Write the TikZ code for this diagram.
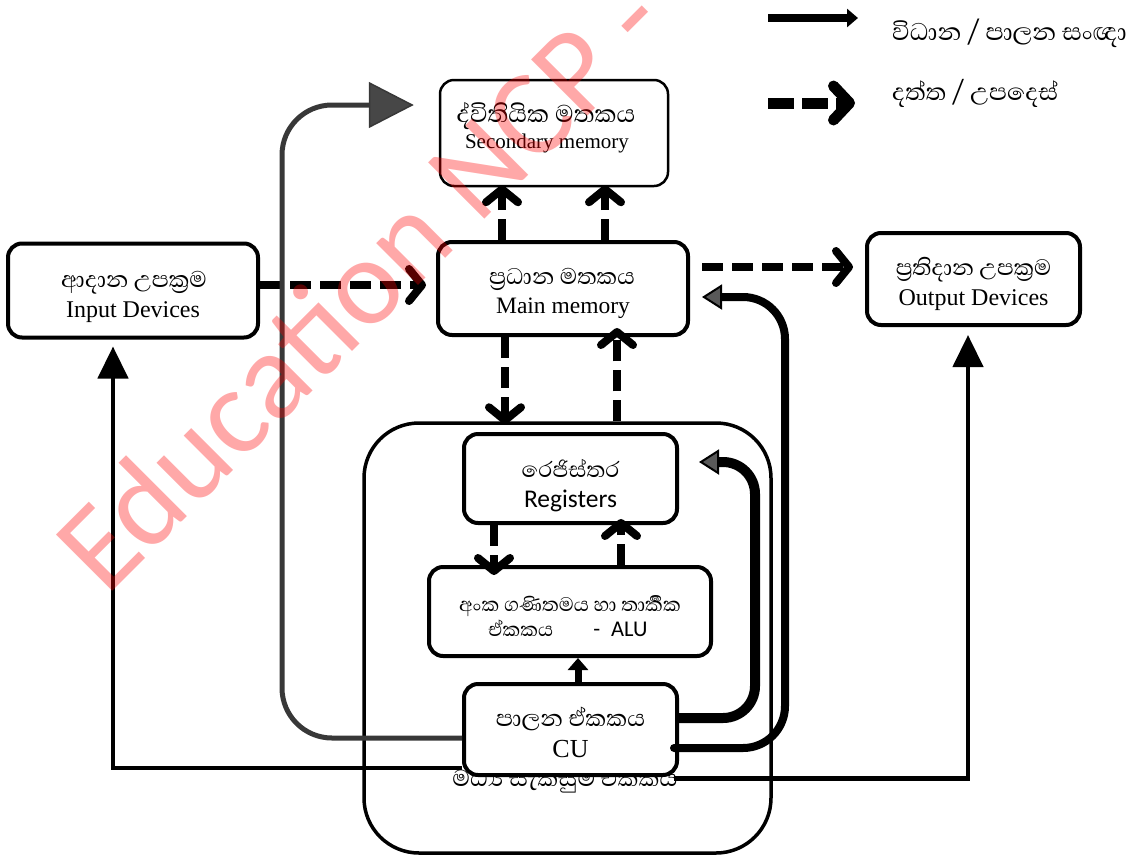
\documentclass[tikz,border=0pt]{standalone}
\usepackage{fontspec}
\setmainfont{Liberation Serif}
\newfontfamily\sinhf[Script=Sinhala]{Abhaya Libre}
\newfontfamily\calib{Carlito}
\usetikzlibrary{arrows.meta}
\begin{document}
\begin{tikzpicture}[x=1pt,y=-1pt,
  box/.style={draw, line width=4pt, rounded corners=14pt, fill=white, inner sep=0pt},
  darr/.style={line width=8pt, dash pattern=on 21pt off 9pt, -{Straight Barb[length=13pt,width=32pt,round]}},
  sarr/.style={line width=4.5pt, -{Triangle[length=32pt,width=30pt]}},
  garr/.style={draw=black!78, line width=5pt, -{Triangle[length=45pt,width=46pt,fill=black!72,line width=1.5pt]}},
  thk/.style={line width=#1, -{Triangle[length=20pt,width=25pt,fill=black!65,line width=2pt]}},
  si/.style={font=\sinhf\fontsize{#1}{#1}\selectfont, anchor=base, inner sep=0pt},
  en/.style={font=\fontsize{#1}{#1}\selectfont, anchor=base, inner sep=0pt},
  ca/.style={font=\calib\fontsize{#1}{#1}\selectfont, anchor=base, inner sep=0pt},
]
\useasboundingbox (0,0) rectangle (1127,855);

% CPU outer box and its (hidden) label
\node[draw, line width=3.5pt, rounded corners=55pt, minimum width=407pt, minimum height=430pt, inner sep=0pt] (cpu) at (567.5,638) {};
\node[si=29.5] (cpulbl) at (565,786) {මධ්^^^^200dය සැකසුම් ඒකකය};

% boxes
\node[box, line width=2.5pt, minimum width=228pt, minimum height=106pt] (sec) at (554,133) {};
\node[si=31] (secS) at ([xshift=-8pt,yshift=11pt]sec.center) {ද්විතියික මතකය};
\node[en=21] (secE) at ([xshift=-7pt,yshift=-15pt]sec.center) {Secondary memory};

\node[box, minimum width=250pt, minimum height=94pt] (inp) at (133,290.5) {};
\node[si=29] (inpS) at ([xshift=1pt,yshift=3.5pt]inp.center) {ආදාන උපක්^^^^200dරම};
\node[en=24] (inpE) at ([yshift=-26.5pt]inp.center) {Input Devices};

\node[box, minimum width=250pt, minimum height=93pt] (mm) at (563,288.5) {};
\node[si=29] (mmS) at ([xshift=-1pt,yshift=4.5pt]mm.center) {ප්^^^^200dරධාන මතකය};
\node[en=23.5] (mmE) at ([yshift=-24.5pt]mm.center) {Main memory};

\node[box, minimum width=213pt, minimum height=92pt] (out) at (973.5,279) {};
\node[si=28.5] (outS) at ([yshift=4pt]out.center) {ප්^^^^200dරතිදාන උපක්^^^^200dරම};
\node[en=24] (outE) at ([yshift=-26pt]out.center) {Output Devices};

\node[box, minimum width=213pt, minimum height=89pt] (reg) at (570.5,478.5) {};
\node[si=28] (regS) at ([yshift=1.5pt]reg.center) {රෙජිස්තර};
\node[ca=25.5] (regE) at ([yshift=-28.5pt]reg.center) {Registers};

\node[box, minimum width=282pt, minimum height=89pt] (alu) at (570,611.5) {};
\node[si=25] (aluS) at ([yshift=0.5pt]alu.center) {අංක ගණිතමය හා තාර්^^^^200dකික};
\node[si=25] (aluE) at ([xshift=-2pt,yshift=-24.5pt]alu.center)
  {ඒකකය\hspace{40pt}{\calib\fontsize{22.5}{22.5}\selectfont -\hspace{11pt}ALU}};

\node[box, minimum width=213pt, minimum height=91pt] (cu) at (570.5,729.5) {};
\node[si=29.5] (cuS) at ([yshift=3.5pt]cu.center) {පාලන ඒකකය};
\node[en=26] (cuE) at ([yshift=-27.5pt]cu.center) {CU};

% legend
\coordinate (l1a) at (768,18);
\coordinate (l1b) at (858,18);
\draw[line width=8pt, -{Triangle[length=11pt,width=18pt]}] (l1a) -- (l1b);
\node[si=31, anchor=base west] (l1t) at (892,40) {විධාන / පාලන සංඥා};
\coordinate (l2a) at (768,103);
\coordinate (l2b) at (855,103);
\draw[line width=11pt, dash pattern=on 26pt off 8pt, -{Straight Barb[length=16pt,width=34pt,round]}] (l2a) -- (l2b);
\node[si=30.5, anchor=base west] (l2t) at (892,100) {දත්ත / උපදෙස්};

% data arrows
\coordinate (ia) at ([yshift=5.5pt]inp.east);
\coordinate (ib) at (ia -| mm.west);
\draw[darr, shorten >=10pt] (ia) -- (ib);

\coordinate (ms1a) at ([xshift=-61pt]mm.north);
\coordinate (ms1b) at (ms1a |- sec.south);
\draw[darr, shorten >=-2pt] (ms1a) -- (ms1b);
\coordinate (ms2a) at ([xshift=42pt]mm.north);
\coordinate (ms2b) at (ms2a |- sec.south);
\draw[darr, shorten >=-2pt] (ms2a) -- (ms2b);

\coordinate (mo1) at ([yshift=21.5pt,xshift=12pt]mm.east);
\coordinate (mo2t) at ([xshift=-12pt]out.west);
\coordinate (mo2) at (mo2t |- mo1);
\draw[darr] (mo1) -- (mo2);

\coordinate (mc1) at ([xshift=-58pt]mm.south);
\coordinate (mc2) at (mc1 |- cpu.north);
\draw[darr, shorten >=-3pt] (mc1) -- (mc2);
\coordinate (cm1) at ([xshift=54pt]mm.south);
\coordinate (cm2) at (cm1 |- cpu.north);
\draw[darr, shorten >=-9pt] (cm2) -- (cm1);

\coordinate (ra1) at ([xshift=-76.5pt]reg.south);
\coordinate (ra2) at (ra1 |- alu.north);
\draw[darr, shorten >=-10pt] (ra1) -- (ra2);
\coordinate (ar1) at ([xshift=50.5pt]reg.south);
\coordinate (ar2) at (ar1 |- alu.north);
\draw[darr, shorten >=-6pt] (ar2) -- (ar1);

% control arrows
\coordinate (ca1) at ([xshift=7.5pt]cu.north);
\coordinate (ca2) at (ca1 |- alu.south);
\draw[line width=7pt, -{Triangle[length=12pt,width=20pt]}] (ca1) -- (ca2);

\coordinate (g0) at ([yshift=-8.5pt]cu.west);
\coordinate (g1) at (282,105);
\coordinate (g2) at ([xshift=-25pt,yshift=28pt]sec.west);
\draw[garr, rounded corners=50pt] (g0) -| (g1) [rounded corners=78pt] -- (g2);

\coordinate (ci0) at ([yshift=-38.5pt]cu.west);
\coordinate (ci1) at ([xshift=-20pt]inp.south);
\draw[sarr, shorten >=7pt] (ci0) -| (ci1);

\coordinate (co0) at ([xshift=-5pt,yshift=-1.5pt]cu.south east);
\coordinate (co1) at ([xshift=-5.5pt]out.south);
\draw[sarr, shorten >=8pt] (co0) -| (co1);

\coordinate (cr0) at ([yshift=11.5pt]cu.east);
\coordinate (cr1) at (755,462);
\coordinate (cr2) at ([xshift=20pt,yshift=16.5pt]reg.east);
\draw[thk=10pt, rounded corners=32pt] (cr0) -| (cr1) -- (cr2);

\coordinate (cmm0) at ([xshift=-5pt,yshift=-18.5pt]cu.east);
\coordinate (cmm1) at (785,297);
\coordinate (cmm2) at ([xshift=12pt,yshift=-8.5pt]mm.east);
\draw[thk=8pt, line cap=round, rounded corners=42pt] (cmm0) -| (cmm1) -- (cmm2);

% watermark
\node[rotate=45, anchor=base west, inner sep=0pt, text=red, text opacity=0.34,
  font=\calib\fontsize{124}{124}\selectfont] (wm) at (106,598) {Education NCP -};
\end{tikzpicture}
\end{document}
